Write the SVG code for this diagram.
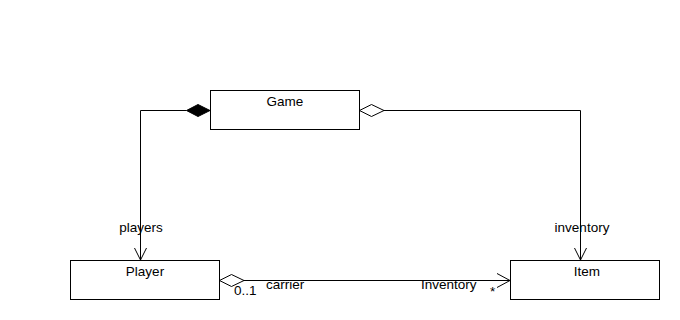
<svg xmlns="http://www.w3.org/2000/svg" width="680" height="320" viewBox="0 0 680 320">
  <style>
    .box { fill: #ffffff; stroke: #000000; stroke-width: 1; }
    .edge { fill: none; stroke: #000000; stroke-width: 1; }
    .open { fill: #ffffff; stroke: #000000; stroke-width: 1; }
    .solid { fill: #000000; stroke: #000000; stroke-width: 1; }
    text { font-family: "Liberation Sans", Arial, sans-serif; font-size: 13.5px; fill: #000000; }
    .c { text-anchor: middle; }
  </style>
  <rect width="680" height="320" fill="#ffffff"/>

  <g id="connectors">
    <!-- Game composes Player -->
    <polyline class="edge" points="186.5,110.5 140.5,110.5 140.5,260"/>
    <polyline class="edge" points="134.5,248 140.5,260 146.5,248"/>
    <polygon class="solid" points="210,110.5 198,104.5 186.5,110.5 198,116.5"/>
    <text x="141" y="232" class="c">players</text>

    <!-- Game aggregates Item -->
    <polyline class="edge" points="384,110.5 580.5,110.5 580.5,260"/>
    <polyline class="edge" points="574.5,248 580.5,260 586.5,248"/>
    <polygon class="open" points="359.5,110.5 371.5,104.5 384,110.5 371.5,116.5"/>
    <text x="582" y="232" class="c">inventory</text>

    <!-- Player aggregates Item -->
    <line class="edge" x1="244" y1="280.5" x2="510" y2="280.5"/>
    <polyline class="edge" points="497,273.5 510,280.5 497,287.5"/>
    <polygon class="open" points="219.5,280.5 231.5,274.5 244,280.5 231.5,286.5"/>
    <text x="234" y="295">0..1</text>
    <text x="266" y="289">carrier</text>
    <text x="421" y="289">Inventory</text>
    <text x="490" y="296">*</text>
  </g>

  <g id="game">
    <rect class="box" x="210.5" y="90.5" width="149" height="39"/>
    <text x="285" y="106" class="c">Game</text>
  </g>

  <g id="player">
    <rect class="box" x="70.5" y="260.5" width="149" height="39"/>
    <text x="145" y="276" class="c">Player</text>
  </g>

  <g id="item">
    <rect class="box" x="510.5" y="260.5" width="149" height="39"/>
    <text x="587" y="276" class="c">Item</text>
  </g>
</svg>
